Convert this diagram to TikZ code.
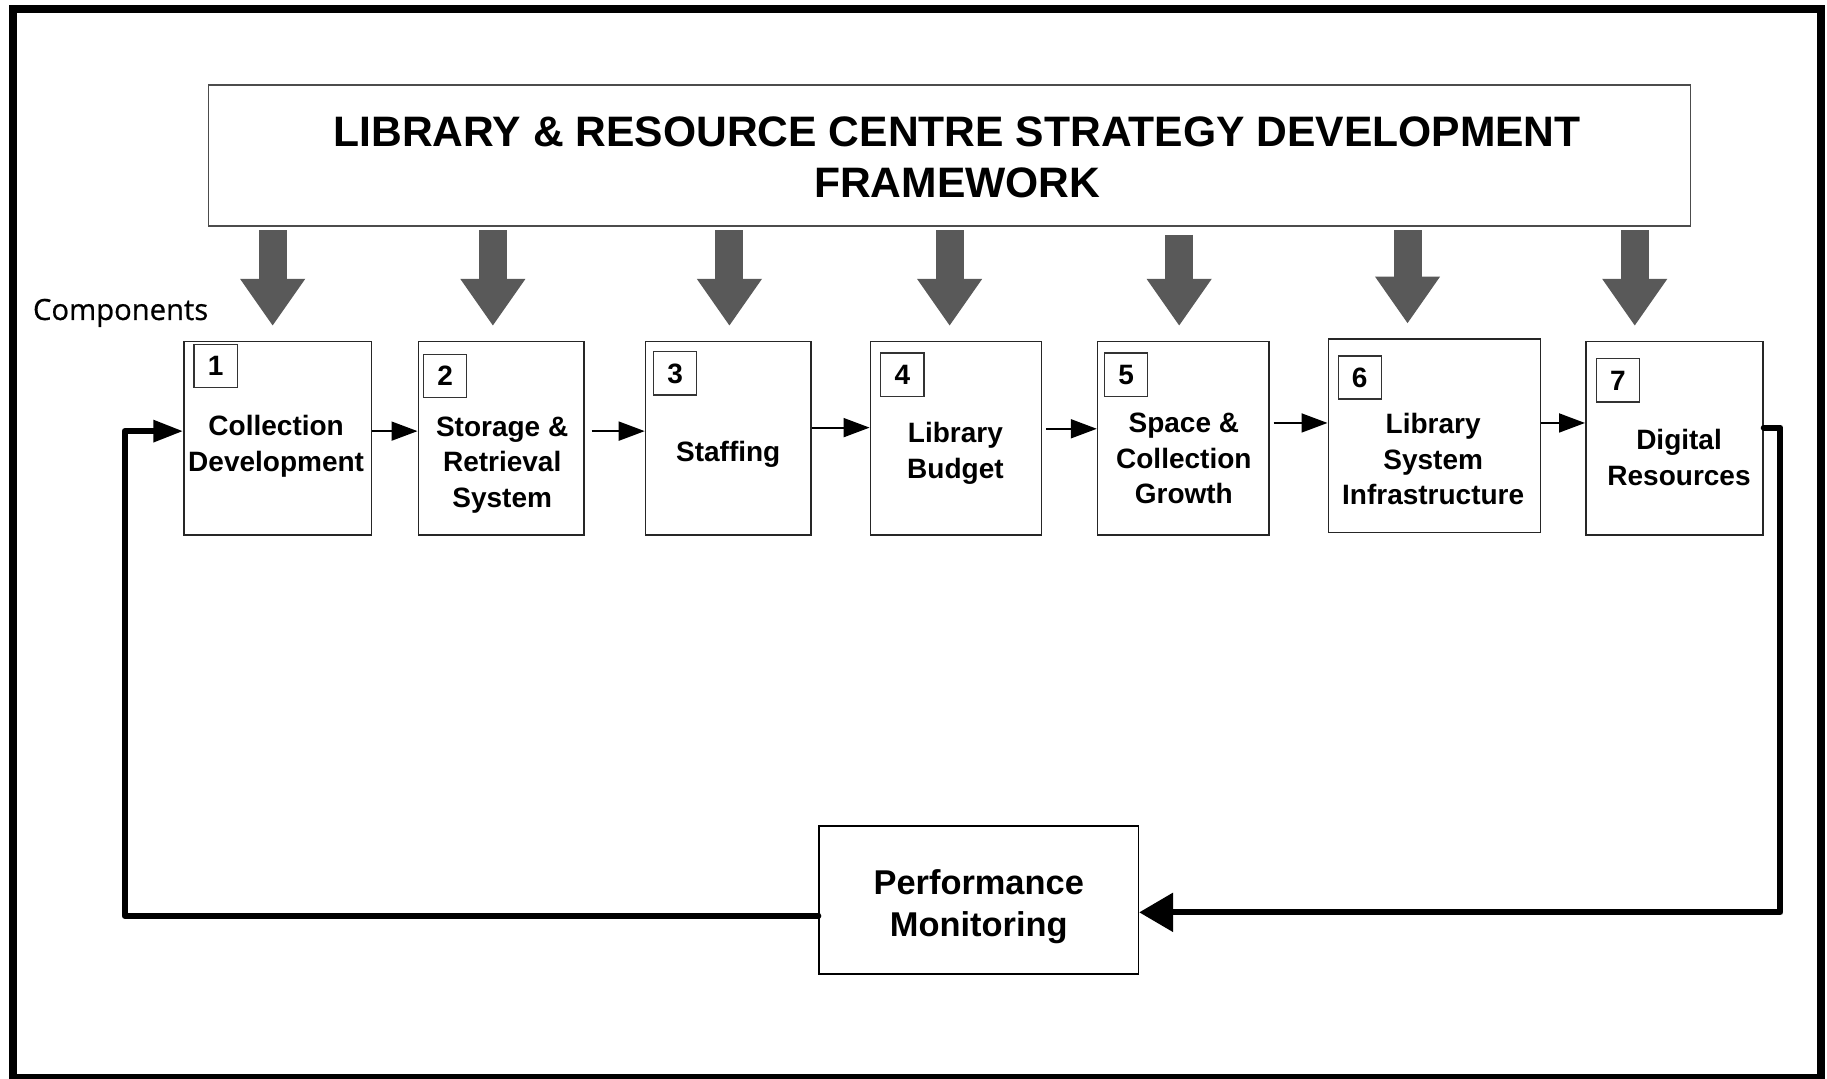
\documentclass[tikz,border=0pt]{standalone}
\usepackage{fontspec}
\setmainfont{Liberation Sans}
\newfontfamily\compsfont{Open Sans}[FakeBold=0.7]
\usepackage{tikz}
\usetikzlibrary{arrows.meta,positioning,calc}
\newcommand{\unitpx}{0.5826pt}

\begin{document}
\begin{tikzpicture}[x=\unitpx, y=-\unitpx,
			comp node/.style={draw=black!85, line width=0.8pt, minimum width=#1*\unitpx, minimum height=166*\unitpx, inner sep=0pt},
			num node/.style={draw=black!80, line width=0.6pt, minimum width=37*\unitpx, minimum height=37*\unitpx, inner sep=0pt, font=\bfseries\fontsize{14}{16}\selectfont},
			text node/.style={align=center, inner sep=0pt, font=\bfseries\fontsize{14}{17.8}\selectfont},
			title node/.style={draw=black!70, line width=0.6pt, minimum width=1272*\unitpx, minimum height=121*\unitpx, inner sep=0pt},
			perf node/.style={draw=black, line width=0.8pt, minimum width=274*\unitpx, minimum height=127*\unitpx, inner sep=0pt},
			block arrow/.style={draw=black!65, line width=14pt, -{Triangle[length=23.3pt, width=32.6pt, line width=0pt]}},
			flow/.style={draw=black, line width=0.9pt, -{Triangle[length=13pt, width=9.5pt]}},
			loop line/.style={draw=black, line width=3pt, line join=round, line cap=round}]

			\useasboundingbox (0,0) rectangle (1568,926);
			\draw[line width=4pt] (11.5,8) rectangle (1563,925);

			% framework
			\node[title node] (t) at (815,133.5) {};
			\node[align=center, inner sep=0pt, font=\bfseries\fontsize{21.3}{25.6}\selectfont] (tt) at (821.5,135) {LIBRARY \& RESOURCE CENTRE STRATEGY DEVELOPMENT\\FRAMEWORK};
			\node[anchor=base west, inner sep=0pt, font=\compsfont\fontsize{14.6}{16}\selectfont] (lab) at (28,274.6) {Components};

			% components
			\node[comp node=161] (1) at (238.5,376) {};
			\node[comp node=142] (2) at (430,376) {};
			\node[comp node=142] (3) at (625,376) {};
			\node[comp node=147] (4) at (820.5,376) {};
			\node[comp node=147] (5) at (1015.5,376) {};
			\node[comp node=182] (6) at (1231,374) {};
			\node[comp node=152] (7) at (1437,376) {};

			\node[num node] (n1) at (185,314) {1};
			\node[num node] (n2) at (382,322.5) {2};
			\node[num node] (n3) at (579.5,320.5) {3};
			\node[num node] (n4) at (774.5,321.5) {4};
			\node[num node] (n5) at (966.5,321.5) {5};
			\node[num node] (n6) at (1167,324) {6};
			\node[num node] (n7) at (1388.5,326.5) {7};

			\node[text node] (c1) at (237,383) {Collection\\Development};
			\node[text node] (c2) at (431,399) {Storage \&\\Retrieval\\System};
			\node[text node] (c3) at (625,390) {Staffing};
			\node[text node] (c4) at (820,389) {Library\\Budget};
			\node[text node] (c5) at (1016,393.5) {Space \&\\Collection\\Growth};
			\node[text node] (c6) at (1230,394) {Library\\System\\Infrastructure};
			\node[text node] (c7) at (1441,392.5) {Digital\\Resources};

			\node[perf node] (p) at (840,772.5) {};
			\node[align=center, inner sep=0pt, font=\bfseries\fontsize{17.2}{21}\selectfont] (pm) at (840,778.5) {Performance\\Monitoring};

			% framework arrows
			\foreach \x/\n/\s in {234/1/3,423/2/3,626/3/3,815/4/3,1012/5/7,1208/6/3,1403/7/3}
				\draw[block arrow] ($(t.south -| \x,0)+(0,\s)$) -- ($(\n.north -| \x,0)+(0,-13)$);

			\path
			(1.east |- 0,370) edge[flow] (2.west |- 0,370)
			(2.east |- 0,370) edge[flow, shorten <=3.5pt] (3.west |- 0,370)
			(3.east |- 0,367) edge[flow] (4.west |- 0,367)
			(4.east |- 0,368) edge[flow, shorten <=2pt] (5.west |- 0,368)
			(5.east |- 0,363) edge[flow, shorten <=2pt] (6.west |- 0,363)
			(6.east |- 0,363) edge[flow] (7.west |- 0,363)
			;

			% feedback loop
			\coordinate (rc) at (1528,783);
			\coordinate (lc) at (107,786);
			\draw[loop line, -{Triangle[length=17pt, width=19pt]}] (7.east |- 0,367) -| (rc) -- (p.east |- rc);
			\draw[loop line, -{Triangle[length=15pt, width=10.5pt]}] (p.west |- lc) -- (lc) |- (1.west |- 0,370);
			\end{tikzpicture}
\end{document}
